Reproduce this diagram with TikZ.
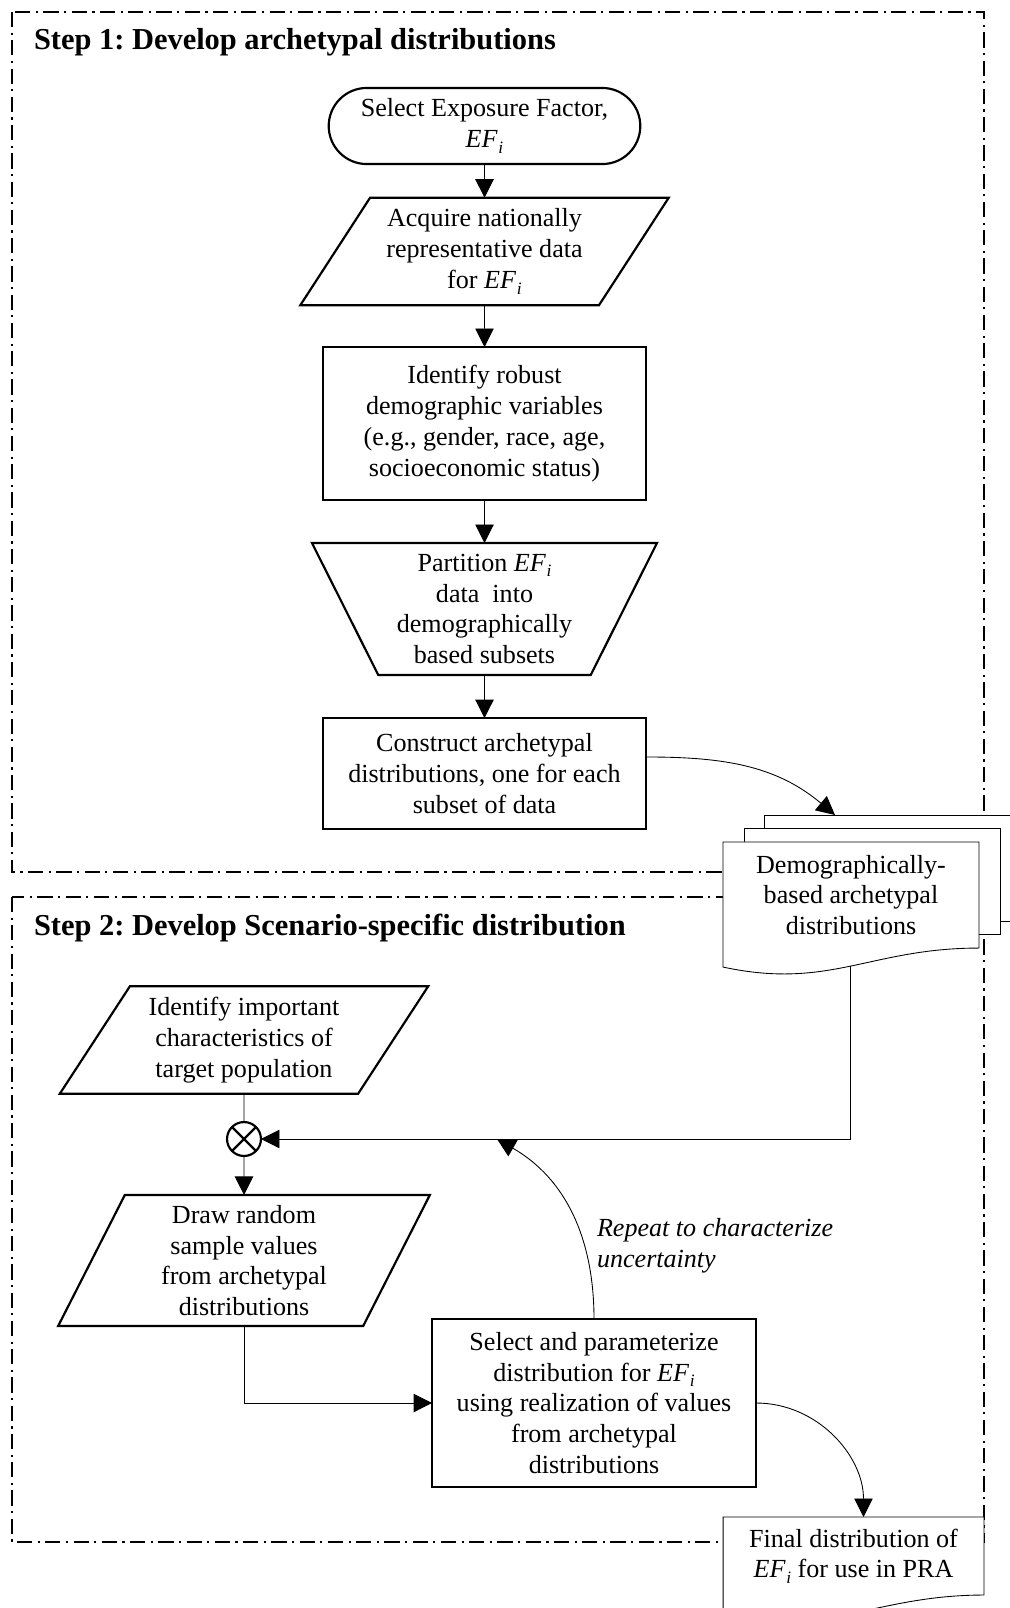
\documentclass[tikz,border=0pt]{standalone}
\usepackage{fontspec}
\setmainfont{Liberation Serif}
\usetikzlibrary{arrows.meta, shapes.misc, shapes.geometric, backgrounds}

\newcommand{\efi}{\textit{EF}\kern0.3pt\raisebox{-0.45ex}{\footnotesize\textit{i}}}
\frenchspacing

\begin{document}
\begin{tikzpicture}[x=0.46pt, y=-0.46pt, line width=1pt,
  every node/.style={font=\fontsize{12}{14.2}\selectfont, align=center, outer sep=0pt},
  steptitle/.style={font=\fontsize{14}{16.8}\selectfont\bfseries, anchor=west, inner sep=0pt},
  term/.style={rounded rectangle, draw, minimum width=150pt, minimum height=35pt},
  io/.style={trapezium, trapezium left angle=55, trapezium right angle=125,
    trapezium stretches body, draw, minimum width=169.5pt, minimum height=49.5pt},
  proc/.style={rectangle, draw, minimum width=148.6pt},
  manual/.style={trapezium, trapezium angle=62, shape border rotate=180,
    trapezium stretches body, draw, minimum width=158.7pt, minimum height=60.7pt},
  docnode/.style={rectangle, inner sep=0pt},
  junction/.style={circle, draw, minimum size=15.6pt, inner sep=0pt,
    path picture={\draw (path picture bounding box.north west) -- (path picture bounding box.south east)
      (path picture bounding box.south west) -- (path picture bounding box.north east);}},
  stepframe/.style={line width=1.1pt, dash pattern=on 7pt off 2.5pt on 1pt off 2.5pt},
  arr/.style={-{Triangle[length=8.5pt, width=8.5pt]}}]

\useasboundingbox (0,0) rectangle (1010,1608);

% step 1
\node[steptitle] (s1) at (34,42) {Step 1: Develop archetypal distributions};
\node[term] (selef) at (484.5,126) {Select Exposure Factor,\\\efi};
\node[io] (acq) at (484.5,251.5) {Acquire nationally\\representative data\\for \efi};
\node[proc, minimum height=70.4pt] (idv) at (484.5,423.5) {Identify robust\\demographic variables\\(e.g., gender, race, age,\\socioeconomic status)};
\node[manual] (part) at (484.5,609) {Partition \efi\\data~ into\\demographically\\based subsets};
\node[proc, minimum height=51pt] (con) at (484.5,773.5) {Construct archetypal\\distributions, one for each\\subset of data};
\node[docnode, minimum width=117.8pt, minimum height=48.8pt] (demo) at (851,895) {Demographically-\\based archetypal\\distributions};
\coordinate (stk) at (835,815);

% step 2
\node[steptitle] (s2) at (34,928) {Step 2: Develop Scenario-specific distribution};
\node[io] (imp) at (244,1040) {Identify important\\characteristics of\\target population};
\node[junction] (junc) at (244,1139) {};
\node[io, trapezium left angle=62, trapezium right angle=118, minimum width=171pt, minimum height=60.3pt] (rand) at (244,1260.5) {Draw random\\sample values\\from archetypal\\distributions};
\node[proc, minimum width=149pt, minimum height=77.3pt] (fit) at (594,1403) {Select and parameterize\\distribution for \efi\\using realization of values\\from archetypal\\distributions};
\node[docnode, minimum width=120pt, minimum height=35.9pt] (fin) at (853.5,1556) {Final distribution of\\\efi{} for use in PRA};
\node[anchor=west, inner sep=0pt, align=left, font=\fontsize{12}{14.2}\selectfont\itshape] (rep) at (597,1245.5) {Repeat to characterize\\uncertainty};
\coordinate (loop) at (497,1139);

\begin{pgfonlayer}{background}
\draw[stepframe] (12,12) rectangle (984,872);
\draw[stepframe] (12,897) rectangle (984,1542);
% stacked documents
\draw[fill=white] ([shift={(41,-27)}]demo.north west) rectangle ([shift={(41,-27)}]demo.south east);
\draw[fill=white] ([shift={(21,-14)}]demo.north west) rectangle ([shift={(21,-14)}]demo.south east);
\draw[fill=white] (demo.north west) -- (demo.north east) -- (demo.south east)
  .. controls +(-109,0) and +(107,23) .. ([shift={(0,19)}]demo.south west) coordinate[pos=.5] (demobot) -- cycle;
\draw[fill=white] (fin.north west) -- (fin.north east) -- (fin.south east)
  .. controls +(-109,0) and +(107,23) .. ([shift={(0,19)}]fin.south west) -- cycle;
\end{pgfonlayer}

\draw[arr] (selef) -- (acq);
\draw[arr] (acq) -- (idv);
\draw[arr] (idv) -- (part);
\draw[arr] (part) -- (con);
\draw[arr] ([yshift=7.6pt]con.east) to[out=0, in=140] (stk);

\draw (imp) -- (junc);
\draw[arr] (junc) -- (rand);
\draw[arr] (demobot) |- (junc);
\draw[arr] (rand) |- (fit);
\draw[arr] (fit) to[out=90, in=-30] (loop);
\draw[arr] (fit) to[out=0, in=90] ([xshift=4.6pt]fin.north);

\end{tikzpicture}
\end{document}
